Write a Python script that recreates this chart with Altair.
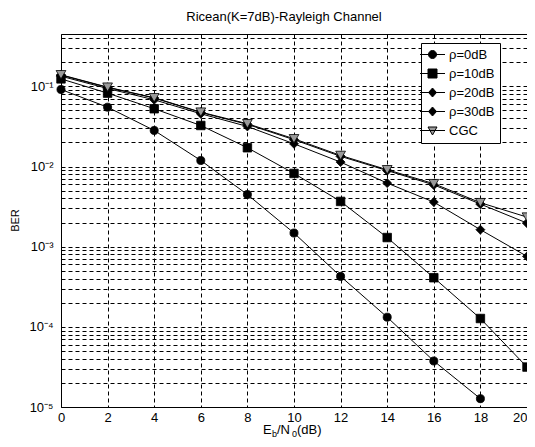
import altair as alt
import pandas as pd

# ---- data ----
snr = [0, 2, 4, 6, 8, 10, 12, 14, 16, 18, 20]
series_names = ["ρ=0dB", "ρ=10dB", "ρ=20dB", "ρ=30dB", "CGC"]
ber_rho0 = [0.0914, 0.055, 0.0282, 0.0119, 0.00447, 0.00148, 4.26e-4, 1.32e-4, 3.75e-5, 1.27e-5]
ber_rho10 = [0.124, 0.0823, 0.0526, 0.0325, 0.01715, 0.0082, 0.00367, 0.0013, 4.1e-4, 1.27e-4, 3.15e-5]
ber_rho20 = [0.134, 0.094, 0.068, 0.0455, 0.0316, 0.0192, 0.01135, 0.00621, 0.0036, 0.00163, 7.57e-4]
ber_rho30 = [0.138, 0.097, 0.0715, 0.0472, 0.0336, 0.0216, 0.0134, 0.0089, 0.0059, 0.0034, 0.00197]
ber_cgc = [0.1396, 0.0977, 0.0721, 0.0477, 0.0342, 0.0222, 0.01375, 0.00912, 0.00611, 0.00354, 0.00234]
x_ticks = [0, 2, 4, 6, 8, 10, 12, 14, 16, 18, 20]
y_ticks = [k * 10.0 ** e for e in range(-5, 0) for k in range(1, 10) if k * 10.0 ** e <= 0.45]
xtitle_parts = ["E", "b", "/N", "0", "(dB)"]

rows = []
for name, vals in zip(series_names, [ber_rho0, ber_rho10, ber_rho20, ber_rho30, ber_cgc]):
    for xv, yv in zip(snr, vals):
        rows.append({"snr": xv, "ber": yv, "series": name})
df = pd.DataFrame(rows)

FONT = "Liberation Sans"

x_enc = alt.X("snr:Q", scale=alt.Scale(domain=[0, 20], nice=False),
              axis=alt.Axis(values=x_ticks, title=None, grid=True, gridDash=[4, 3],
                            gridColor="black", gridOpacity=1, ticks=False, tickSize=0, domain=False,
                            labelFont=FONT, labelFontSize=13, labelPadding=4,
                            labelFlush=False, labelColor="black",
                            labelAlign=alt.condition("datum.value >= 20", alt.value("right"), alt.value("center"))))
y_enc = alt.Y("ber:Q", scale=alt.Scale(type="log", domain=[1e-5, 0.45], nice=False),
              axis=alt.Axis(values=y_ticks, title="BER", grid=True, gridDash=[4, 3],
                            gridColor="black", gridOpacity=1, ticks=False, tickSize=0, domain=False,
                            labelFont=FONT, labelFontSize=13, labelPadding=8, labelColor="black",
                            labelAlign="right", labelBaseline="middle",
                            labelExpr="abs(log(datum.value)/LN10 - round(log(datum.value)/LN10)) < 0.01 ? '10⁻' + ['','¹','²','³','⁴','⁵'][round(-log(datum.value)/LN10)] : ''",
                            titleFont=FONT, titleFontSize=11, titleFontWeight="normal",
                            titleX=-46, titleY=186, titleAngle=-90, titleAlign="center",
                            titleBaseline="middle", titleColor="black"))

base = alt.Chart(df)

lines = base.mark_line(color="black", strokeWidth=1).encode(x=x_enc, y=y_enc, detail="series:N")

points = base.mark_point(filled=True, stroke="black", strokeWidth=0.8, opacity=1).encode(
    x=x_enc, y=y_enc,
    shape=alt.Shape("series:N", scale=alt.Scale(domain=series_names,
                    range=["circle", "square", "diamond", "diamond", "triangle-down"]), legend=None),
    size=alt.Size("series:N", scale=alt.Scale(domain=series_names, range=[65, 95, 60, 60, 90]), legend=None),
    fill=alt.condition(alt.datum.series == "CGC", alt.value("#9a9a9a"), alt.value("black")),
)

line_seg = "M-2.5,0L2.5,0"
legend_paths = [
    line_seg + "M-0.8,0A0.8,0.8,0,1,1,0.8,0A0.8,0.8,0,1,1,-0.8,0Z",
    line_seg + "M-0.9,-0.9L0.9,-0.9L0.9,0.9L-0.9,0.9Z",
    line_seg + "M0,-0.9L0.8,0L0,0.9L-0.8,0Z",
    line_seg + "M0,-0.9L0.8,0L0,0.9L-0.8,0Z",
    line_seg + "M-0.9,-0.7L0.9,-0.7L0,0.9Z",
]
legend_fills = ["black", "black", "black", "black", "#9a9a9a"]
legend_strokes = ["black", "black", "black", "black", "black"]

leg = alt.Legend(title=None, labelExpr="datum.label + '    '")
legend_layer = base.transform_filter("false").mark_point(
    filled=True, strokeWidth=1, size=100, opacity=1).encode(
    x=x_enc, y=y_enc,
    shape=alt.Shape("series:N", scale=alt.Scale(domain=series_names, range=legend_paths), legend=leg),
    fill=alt.Fill("series:N", scale=alt.Scale(domain=series_names, range=legend_fills), legend=leg),
    stroke=alt.Stroke("series:N", scale=alt.Scale(domain=series_names, range=legend_strokes), legend=leg),
)

one = pd.DataFrame({"k": [0]})
title_x = [202, 211, 216, 231, 236]
title_dy = [0, 3, 0, 3, 0]
title_sz = [13, 9, 13, 9, 13]
xtitle_layers = []
for part, px, dy, sz in zip(xtitle_parts, title_x, title_dy, title_sz):
    xtitle_layers.append(
        alt.Chart(one).mark_text(align="left", baseline="alphabetic", font=FONT, fontSize=sz,
                                 color="black", dy=dy).encode(
            x=alt.value(px), y=alt.value(400), text=alt.value(part))
    )

chart = alt.layer(lines, points, legend_layer, *xtitle_layers).resolve_scale(
    shape="independent", fill="independent", size="independent", stroke="independent"
).properties(
    width=466, height=373,
    title=alt.TitleParams("Ricean(K=7dB)-Rayleigh Channel", font=FONT, fontSize=13,
                          fontWeight="normal", color="black", offset=10, dx=-10, anchor="middle"),
    autosize=alt.AutoSizeParams(type="none"),
    padding={"left": 53, "top": 26, "right": 0, "bottom": 32},
).configure_view(stroke="black", strokeWidth=1).configure_legend(
    orient="none", legendX=360, legendY=9, strokeColor="black", fillColor="white",
    padding=5, labelFont=FONT, labelFontSize=13, labelColor="black", labelOffset=10,
    symbolSize=100, symbolStrokeWidth=1, symbolStrokeColor="black", rowPadding=5,
    symbolOpacity=1,
)

chart.save("out.html", embed_options={"renderer": "svg", "actions": False})
